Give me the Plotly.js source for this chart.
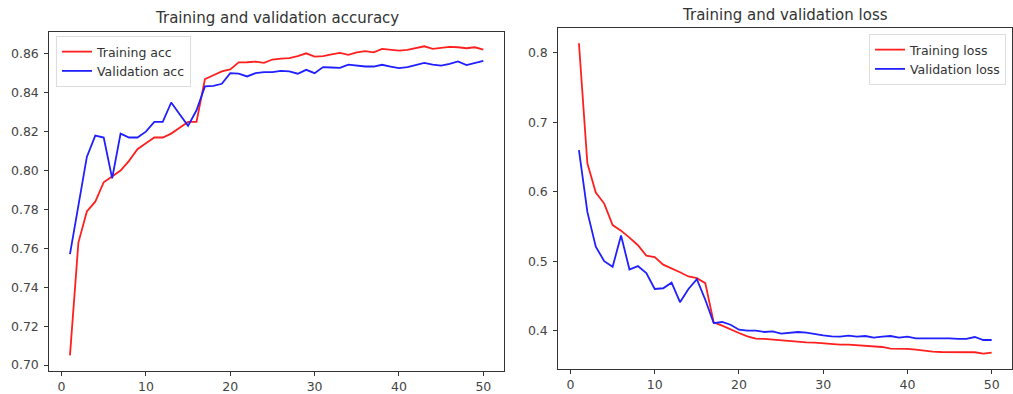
<!DOCTYPE html>
<html>
<head>
<meta charset="utf-8">
<script src="https://cdn.plot.ly/plotly-3.0.1.min.js"></script>
<style>
  html, body { margin: 0; padding: 0; background: #fff; }
  #chart { width: 1013px; height: 394px; }
</style>
</head>
<body>
<div id="chart"></div>
<script>
const epochs = Array.from({length: 50}, (_, i) => i + 1);

const trainAcc = [0.705, 0.763, 0.779, 0.784, 0.794, 0.797, 0.800, 0.805, 0.811, 0.814,
  0.817, 0.817, 0.819, 0.822, 0.825, 0.825, 0.847, 0.849, 0.851, 0.852,
  0.8556, 0.8557, 0.856, 0.8554, 0.8571, 0.8576, 0.8578, 0.8588, 0.8603, 0.8586,
  0.8588, 0.8597, 0.8605, 0.8595, 0.8608, 0.8614, 0.8608, 0.8626, 0.8622, 0.8617,
  0.862, 0.8629, 0.8639, 0.8626, 0.8632, 0.8636, 0.8634, 0.8629, 0.8634, 0.8622];

const valAcc = [0.757, 0.783, 0.807, 0.818, 0.817, 0.796, 0.819, 0.817, 0.817, 0.820,
  0.825, 0.825, 0.835, 0.829, 0.823, 0.831, 0.8433, 0.8435, 0.8446, 0.8501,
  0.8498, 0.8484, 0.8501, 0.8506, 0.8506, 0.8513, 0.851, 0.8498, 0.8518, 0.8501,
  0.8532, 0.853, 0.8528, 0.8545, 0.854, 0.8535, 0.8535, 0.8544, 0.8535, 0.8527,
  0.8532, 0.8544, 0.8554, 0.8545, 0.854, 0.8549, 0.8561, 0.8542, 0.8552, 0.8564];

const trainLoss = [0.814, 0.641, 0.599, 0.583, 0.552, 0.544, 0.534, 0.523, 0.508, 0.506,
  0.495, 0.490, 0.484, 0.478, 0.4756, 0.4684, 0.4119, 0.4071, 0.4013, 0.3965,
  0.3918, 0.3884, 0.388, 0.387, 0.386, 0.3846, 0.3841, 0.3831, 0.3827, 0.3817,
  0.3807, 0.3798, 0.3798, 0.3788, 0.3774, 0.3769, 0.3764, 0.374, 0.374, 0.3736,
  0.3726, 0.3707, 0.3697, 0.3692, 0.3692, 0.3683, 0.3688, 0.3688, 0.3668, 0.3683];

const valLoss = [0.660, 0.571, 0.521, 0.500, 0.492, 0.537, 0.488, 0.493, 0.483, 0.460,
  0.461, 0.469, 0.441, 0.460, 0.474, 0.4445, 0.4109, 0.4124, 0.4085, 0.4013,
  0.3999, 0.3999, 0.398, 0.399, 0.3956, 0.397, 0.398, 0.397, 0.3946, 0.3932,
  0.3918, 0.3913, 0.3927, 0.3913, 0.3922, 0.3898, 0.3913, 0.3922, 0.3898, 0.3913,
  0.3889, 0.3889, 0.3894, 0.3894, 0.3889, 0.388, 0.388, 0.3908, 0.3865, 0.3865];

const accTicks = [0.70, 0.72, 0.74, 0.76, 0.78, 0.80, 0.82, 0.84, 0.86];
const lossTicks = [0.4, 0.5, 0.6, 0.7, 0.8];
const xTicks = [0, 10, 20, 30, 40, 50];

const RED = '#ff1f1f', BLUE = '#1f1fff';
const FONT = 'DejaVu Sans, sans-serif';

const traces = [
  {x: epochs, y: trainAcc, name: 'Training acc', type: 'scatter', mode: 'lines',
   line: {color: RED, width: 1.8}, xaxis: 'x', yaxis: 'y', legend: 'legend'},
  {x: epochs, y: valAcc, name: 'Validation acc', type: 'scatter', mode: 'lines',
   line: {color: BLUE, width: 1.8}, xaxis: 'x', yaxis: 'y', legend: 'legend'},
  {x: epochs, y: trainLoss, name: 'Training loss', type: 'scatter', mode: 'lines',
   line: {color: RED, width: 1.8}, xaxis: 'x2', yaxis: 'y2', legend: 'legend2'},
  {x: epochs, y: valLoss, name: 'Validation loss', type: 'scatter', mode: 'lines',
   line: {color: BLUE, width: 1.8}, xaxis: 'x2', yaxis: 'y2', legend: 'legend2'}
];

const axisCommon = {
  showgrid: false, zeroline: false, showline: true, mirror: true,
  linecolor: '#333', linewidth: 1, ticks: 'outside', ticklen: 4, tickcolor: '#333',
  tickfont: {family: FONT, size: 12.5, color: '#444'}
};
const xCommon = Object.assign({}, axisCommon, {ticklabelstandoff: 0});
const yCommon = Object.assign({}, axisCommon, {ticklabelstandoff: 3});

const layout = {
  width: 1013, height: 394,
  margin: {l: 0, r: 0, t: 0, b: 0},
  paper_bgcolor: '#fff', plot_bgcolor: '#fff',
  font: {family: FONT, color: '#333'},
  showlegend: true,
  xaxis: Object.assign({}, xCommon, {domain: [49.3/1013, 504/1013], range: [-1.45, 52.45],
    tickvals: xTicks, anchor: 'y'}),
  yaxis: Object.assign({}, yCommon, {domain: [(394-370.7)/394, (394-31.7)/394],
    range: [0.6971, 0.8714], tickvals: accTicks, ticktext: accTicks.map(v => v.toFixed(2)), anchor: 'x'}),
  xaxis2: Object.assign({}, xCommon, {domain: [558.3/1013, 1012.3/1013], range: [-1.45, 52.45],
    tickvals: xTicks, anchor: 'y2'}),
  yaxis2: Object.assign({}, yCommon, {domain: [(394-369)/394, (394-28.3)/394],
    range: [0.3447, 0.8355], tickvals: lossTicks, ticktext: lossTicks.map(v => v.toFixed(1)), anchor: 'x2'}),
  legend: {x: 56/1013, y: 1 - 36/394, xanchor: 'left', yanchor: 'top',
    bgcolor: 'rgba(255,255,255,0.9)', bordercolor: '#ddd', borderwidth: 1,
    font: {family: FONT, size: 12.5, color: '#333'}, tracegroupgap: 0},
  legend2: {x: 1006/1013, y: 1 - 34/394, xanchor: 'right', yanchor: 'top',
    bgcolor: 'rgba(255,255,255,0.9)', bordercolor: '#ddd', borderwidth: 1,
    font: {family: FONT, size: 12.5, color: '#333'}, tracegroupgap: 0},
  annotations: [
    {text: 'Training and validation accuracy', xref: 'paper', yref: 'paper',
     x: 276.7/1013, y: 1 - 18/394, xanchor: 'center', yanchor: 'middle', showarrow: false,
     font: {family: FONT, size: 15, color: '#333'}},
    {text: 'Training and validation loss', xref: 'paper', yref: 'paper',
     x: 785.3/1013, y: 1 - 15/394, xanchor: 'center', yanchor: 'middle', showarrow: false,
     font: {family: FONT, size: 15, color: '#333'}}
  ]
};

Plotly.newPlot('chart', traces, layout, {staticPlot: true, displayModeBar: false});
</script>
</body>
</html>
